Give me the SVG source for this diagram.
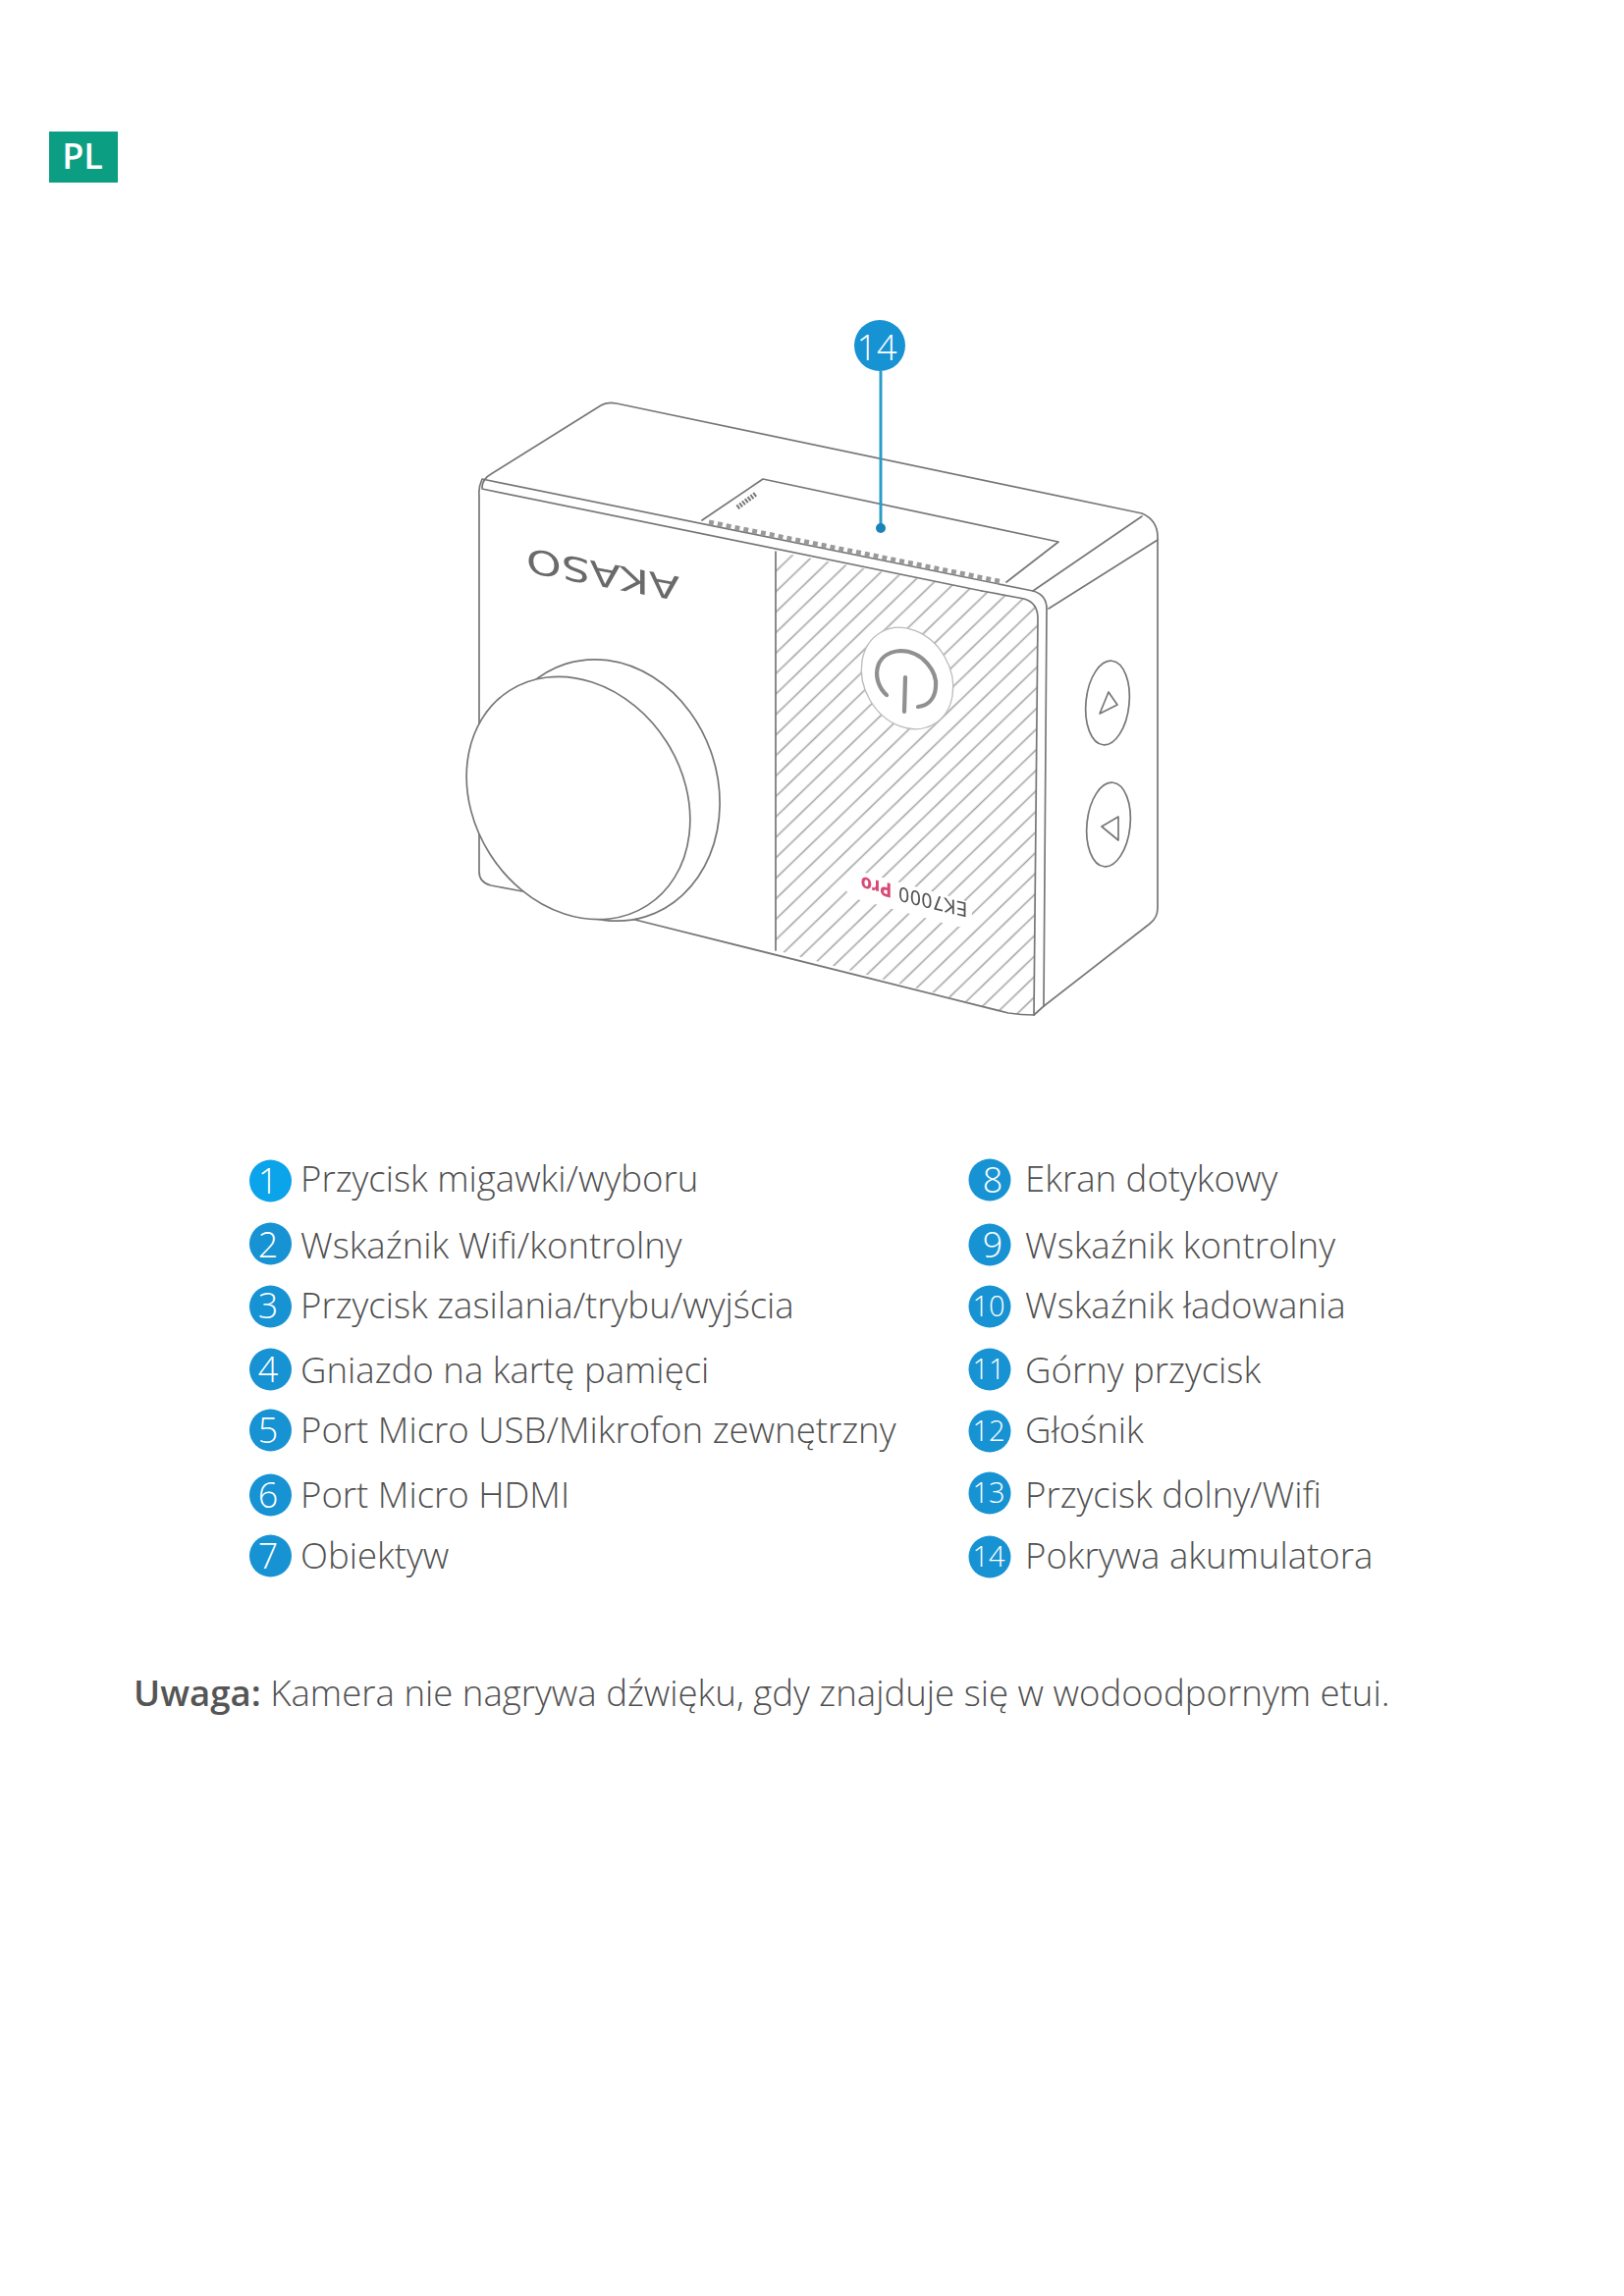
<svg xmlns="http://www.w3.org/2000/svg" width="1654" height="2339" viewBox="0 0 1654 2339">
<style>
text{font-family:"Open Sans","Liberation Sans",sans-serif}
.l{font-size:36.6px;font-weight:300;fill:#505050}
.n{font-size:36px;font-weight:300;fill:#fff;text-anchor:middle}
.s{font-size:29px}
.c{fill:#1793d4}
.e{fill:none;stroke:#777;stroke-width:1.7;stroke-linejoin:round;stroke-linecap:round}
.w{fill:#fff;stroke:#777;stroke-width:1.7}
.d{font-family:"DejaVu Sans",sans-serif}
</style>
<defs>
<pattern id="hatch" width="15" height="15" patternUnits="userSpaceOnUse" patternTransform="rotate(46)"><rect x="0" y="0" width="15" height="15" fill="#fff"/><line x1="7.500" y1="0" x2="7.500" y2="15" stroke="#a0a0a0" stroke-width="1.5"/></pattern>
<filter id="soft" x="-5%" y="-5%" width="110%" height="110%"><feGaussianBlur stdDeviation="0.5"/></filter>
</defs>
<rect width="1654" height="2339" fill="#fff"/>
<g id="badge-pl"><rect x="50" y="134" width="70" height="52" fill="#0b9e82"/><text x="84" y="172" font-size="36" font-weight="600" fill="#fff" text-anchor="middle">PL</text></g>
<g id="camera" filter="url(#soft)">
<path d="M790 562L1043 610Q1057 614 1057 630L1053 1034Q1040 1034 1027 1032L790 968Z" fill="url(#hatch)" stroke="none"/>
<path class="e" d="M790 562V968M1000 602L1043 610Q1057 614 1057 630L1053 1034"/>
<path class="e" d="M491 497Q491 488 500 483L612 413Q618 409 628 411L1163 523Q1179 530 1179 547V925Q1179 935 1171 941L1063 1025L1053 1034Q1040 1034 1027 1032L639 935"/>
<path class="e" d="M532 908L500 902Q488 899 488 888V505Q487 497 491 488L1052 602Q1066 606 1066 620L1063 1025"/>
<path class="e" d="M491 498L1000 602"/>
<path class="e" d="M1163 526L1052 602M1179 550L1068 620"/>
<path class="e" d="M715 530L777 488L1078 552L1025 593"/>
<path d="M722 532L1022 593" fill="none" stroke="#9a9a9a" stroke-width="5" stroke-dasharray="5 4"/>
<path d="M751 517L770 503" fill="none" stroke="#777" stroke-width="5" stroke-dasharray="2 1.5"/>
<text class="d" transform="matrix(-1.34 -0.255 0 -1 614 573)" font-size="34" text-anchor="middle" fill="#6a6a6a">AKASO</text>
<ellipse class="w" cx="617" cy="805" rx="114" ry="135" transform="rotate(-17.7 617 805)"/>
<ellipse class="w" cx="589" cy="813" rx="106.600" ry="130" transform="rotate(-32.5 589 813)"/>
<ellipse cx="924" cy="691" rx="44" ry="54" transform="rotate(-30 924 691)" fill="#fff" stroke="#bbb" stroke-width="1.3"/>
<path d="M903 708C888 695 888 665 917 663C940 663 955 685 953 700C952 712 945 719 935 720M922 690L921 725" fill="none" stroke="#909090" stroke-width="4.200" stroke-linecap="round"/>
<ellipse class="e" cx="1128" cy="716" rx="22" ry="43" transform="rotate(6 1128 716)"/>
<ellipse class="e" cx="1129" cy="840" rx="22" ry="43" transform="rotate(6 1129 840)"/>
<path class="e" d="M1129 705L1120 727L1138 718ZM1139 832L1122 842L1139 856Z"/>
<path d="M875 902L976 930" fill="none" stroke="#fff" stroke-width="28" stroke-linecap="round"/>
<text class="d" transform="matrix(-0.92 -0.22 0 -1 950 911.500)" font-size="20" fill="#555" text-anchor="middle">EK7000</text>
<text class="d" transform="matrix(-0.82 -0.2 0 -1 892.500 896.500)" font-size="20" font-weight="700" fill="#d84a74" text-anchor="middle">Pro</text>
</g>
<g id="connectors"><line x1="897" y1="378" x2="897" y2="538" stroke="#2a9cc8" stroke-width="3"/><circle cx="897" cy="538" r="5" fill="#1a84b8"/></g>
<g id="callout-top"><circle class="c" cx="896" cy="352" r="26"/><text class="n" x="893" y="367">14</text></g>
<g id="i1"><circle cx="275.500" cy="1203" r="21.500" fill="#0ba3ea"/><text class="n" x="273" y="1216">1</text><text class="l" x="306" y="1214">Przycisk migawki/wyboru</text></g>
<g id="i2"><circle class="c" cx="275.500" cy="1267" r="21.500"/><text class="n" x="273" y="1281">2</text><text class="l" x="306" y="1282">Wskaźnik Wifi/kontrolny</text></g>
<g id="i3"><circle class="c" cx="275.500" cy="1331" r="21.500"/><text class="n" x="273" y="1343">3</text><text class="l" x="306" y="1343">Przycisk zasilania/trybu/wyjścia</text></g>
<g id="i4"><circle class="c" cx="275.500" cy="1395" r="21.500"/><text class="n" x="273" y="1408">4</text><text class="l" x="306" y="1409">Gniazdo na kartę pamięci</text></g>
<g id="i5"><circle class="c" cx="275.500" cy="1457" r="21.500"/><text class="n" x="273" y="1470">5</text><text class="l" x="306" y="1470">Port Micro USB/Mikrofon zewnętrzny</text></g>
<g id="i6"><circle class="c" cx="275.500" cy="1523" r="21.500"/><text class="n" x="273" y="1536">6</text><text class="l" x="306" y="1536">Port Micro HDMI</text></g>
<g id="i7"><circle class="c" cx="275.500" cy="1585" r="21.500"/><text class="n" x="273" y="1598">7</text><text class="l" x="306" y="1598">Obiektyw</text></g>
<g id="i8"><circle class="c" cx="1008" cy="1202" r="21.500"/><text class="n" x="1011" y="1215">8</text><text class="l" x="1044" y="1214">Ekran dotykowy</text></g>
<g id="i9"><circle class="c" cx="1008" cy="1268" r="21.500"/><text class="n" x="1011" y="1281">9</text><text class="l" x="1044" y="1282">Wskaźnik kontrolny</text></g>
<g id="i10"><circle class="c" cx="1008" cy="1331" r="21.500"/><text class="n s" x="1007" y="1341">10</text><text class="l" x="1044" y="1343">Wskaźnik ładowania</text></g>
<g id="i11"><circle class="c" cx="1008" cy="1395" r="21.500"/><text class="n s" x="1007" y="1405">11</text><text class="l" x="1044" y="1409">Górny przycisk</text></g>
<g id="i12"><circle class="c" cx="1008" cy="1458" r="21.500"/><text class="n s" x="1007" y="1468">12</text><text class="l" x="1044" y="1470">Głośnik</text></g>
<g id="i13"><circle class="c" cx="1008" cy="1521" r="21.500"/><text class="n s" x="1007" y="1531">13</text><text class="l" x="1044" y="1536">Przycisk dolny/Wifi</text></g>
<g id="i14"><circle class="c" cx="1008" cy="1586" r="21.500"/><text class="n s" x="1007" y="1596">14</text><text class="l" x="1044" y="1598">Pokrywa akumulatora</text></g>
<g id="note"><text x="136" y="1738" class="l"><tspan font-weight="600" fill="#555">Uwaga:</tspan> Kamera nie nagrywa dźwięku, gdy znajduje się w wodoodpornym etui.</text></g>
</svg>
